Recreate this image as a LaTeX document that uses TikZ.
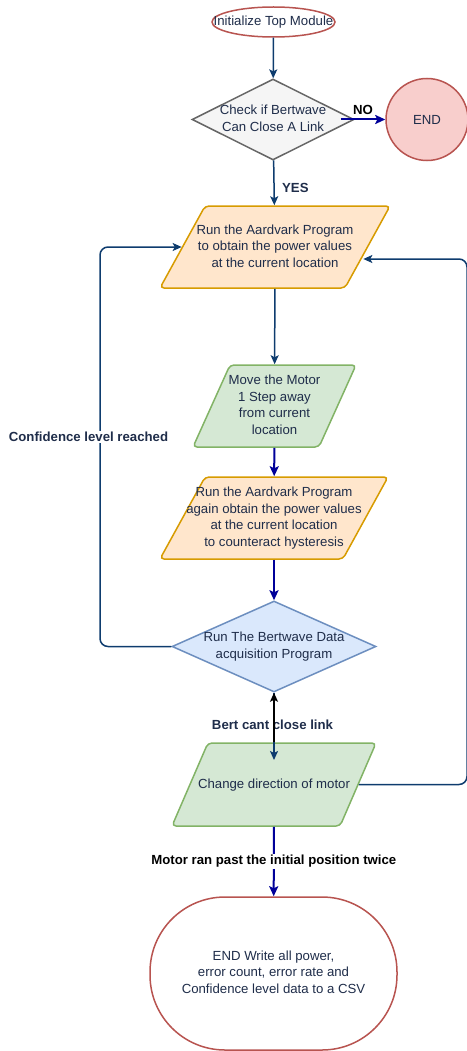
\documentclass[tikz,border=0pt]{standalone}
\usepackage{fontspec}
\setmainfont{Liberation Sans}
\usetikzlibrary{arrows.meta}
\usetikzlibrary{shapes.geometric}

\definecolor{navyline}{HTML}{0E3C6E}
\definecolor{blueline}{HTML}{000099}
\definecolor{txtcol}{HTML}{1F2D4A}
\definecolor{termred}{HTML}{B85450}
\definecolor{endfill}{HTML}{F8CECC}
\definecolor{orfill}{HTML}{FFE6CC}
\definecolor{ordraw}{HTML}{D79B00}
\definecolor{grfill}{HTML}{D5E8D4}
\definecolor{grdraw}{HTML}{82B366}
\definecolor{blfill}{HTML}{DAE8FC}
\definecolor{bldraw}{HTML}{6C8EBF}
\definecolor{gyfill}{HTML}{F5F5F5}
\definecolor{gydraw}{HTML}{666666}

\newcommand{\ctext}[1]{\makebox[0pt]{\begin{tabular}{@{}c@{}}#1\end{tabular}}}

\tikzset{
  every node/.style={font=\fontsize{13.2}{16.5}\selectfont, text=txtcol},
  para/.style={trapezium, trapezium stretches body, rounded corners=4pt, line width=1.5pt, inner sep=0pt},
  para82/.style={para, minimum height=82, text height=44.3pt, text depth=37.7pt},
  para83/.style={para, minimum height=83, text height=44.8pt, text depth=38.2pt},
  dec/.style={diamond, line width=1.5pt, inner sep=0pt},
  term/.style={draw=termred, fill=white, line width=1.5pt, inner sep=0pt},
  link/.style={draw=navyline, line width=1.5pt, -{Stealth[length=9pt,width=8pt,inset=2pt]}},
  heavy/.style={draw=blueline, line width=2pt, -{Stealth[length=10pt,width=9pt,inset=2pt]}},
  lab/.style={font=\fontsize{13.2}{16.5}\selectfont\bfseries},
}

\begin{document}
\begin{tikzpicture}[x=1pt, y=-1pt]
    \useasboundingbox (0,0) rectangle (466,1051);

    % shapes
    \node[term, ellipse, minimum width=123, minimum height=30] (init) at (273.5,22) {\ctext{Initialize Top Module}};
    \node[dec, draw=gydraw, fill=gyfill, minimum width=162, minimum height=81] (chk) at (273,119.5) {\ctext{Check if Bertwave\\Can Close A Link}};
    \node[term, circle, fill=endfill, minimum size=82] (endA) at (427,119.5) {END};
    \node[para82, draw=ordraw, fill=orfill, minimum width=230,
          trapezium left angle=61.2, trapezium right angle=118.8] (run1) at (275,247)
          {\ctext{Run the Aardvark Program\\to obtain the power values\\at the current location}};
    \node[para82, draw=grdraw, fill=grfill, minimum width=163,
          trapezium left angle=65.7, trapezium right angle=114.3] (move) at (274.5,406)
          {\ctext{Move the Motor\\1 Step away\\from current\\location}};
    \node[para82, draw=ordraw, fill=orfill, minimum width=228,
          trapezium left angle=61.2, trapezium right angle=118.8] (run2) at (274,518)
          {\ctext{Run the Aardvark Program\\again obtain the power values\\at the current location\\to counteract hysteresis}};
    \node[dec, draw=bldraw, fill=blfill, minimum width=204, minimum height=91] (acq) at (274,646.5) {\ctext{Run The Bertwave Data\\acquisition Program}};
    \node[para83, draw=grdraw, fill=grfill, minimum width=204,
          trapezium left angle=66.6, trapezium right angle=113.4] (turn) at (274,784.5)
          {\ctext{Change direction of motor}};
    \node[term, rectangle, rounded corners=75pt, minimum width=247, minimum height=153] (endB) at (273.5,973.5)
          {\ctext{END Write all power,\\error count, error rate and\\Confidence level data to a CSV}};

    \coordinate (lbend) at (100,247);
    \coordinate (rbend) at (467,259);
    \coordinate (bertend) at (274,760);

    % connectors
    \draw[link] (init) -- (chk);
    \draw[heavy] ([xshift=-14pt]chk.east) -- node[lab, text=black, above=1pt] {NO} (endA);
    \draw[link] (chk) -- node[lab, right=4pt, pos=0.62] {YES} (run1);
    \draw[link] (run1) -- (move);
    \draw[heavy] (move) -- (run2);
    \draw[heavy] (run2) -- (acq);
    \draw[link, rounded corners=8pt] (acq.west) -| (lbend) -- (run1);
    \node[lab, fill=white, inner sep=1pt] (conf) at (88.5,437) {Confidence level reached};
    \draw[link] (acq) -- (bertend);
    \node[lab] (bert) at (272.5,725) {Bert cant close link};
    \draw[line width=1.5pt, -{Stealth[length=9pt,width=8pt,inset=2pt]}] (turn) -- (acq);
    \draw[link, rounded corners=8pt] (turn.east) -| (rbend) -- ([xshift=-5pt]run1.east |- rbend);
    \draw[heavy] (turn) -- node[lab, text=black, fill=white, inner sep=1pt] {Motor ran past the initial position twice} (endB);
\end{tikzpicture}
\end{document}
